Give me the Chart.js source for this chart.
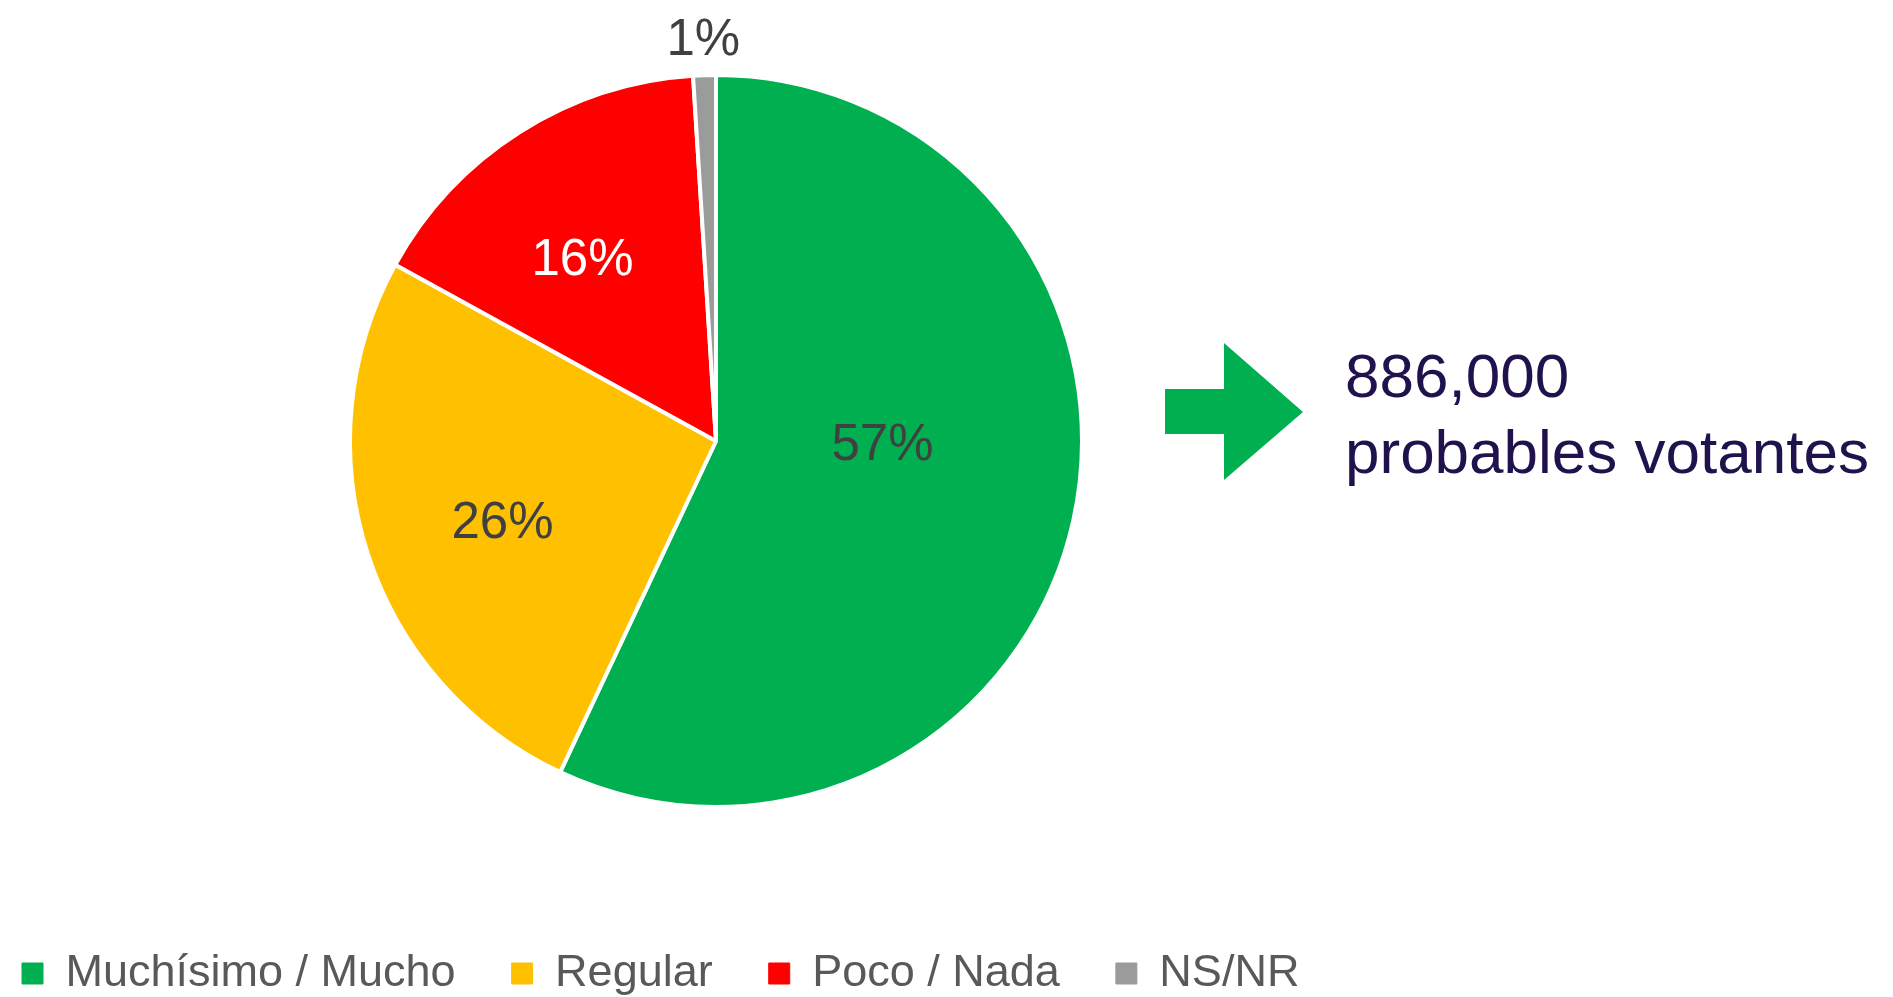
<!DOCTYPE html>
<html>
<head>
<meta charset="utf-8">
<script src="https://cdn.jsdelivr.net/npm/chart.js@4.4.1/dist/chart.umd.min.js"></script>
<style>
html, body { margin: 0; padding: 0; background: #fff; overflow: hidden; }
</style>
</head>
<body>
<canvas id="pieChart" width="1893" height="997"></canvas>
<script>
const categories = ["Muchísimo / Mucho", "Regular", "Poco / Nada", "NS/NR"];
const shares = [57, 26, 16, 1];
const sliceColors = ["#00b050", "#ffc000", "#ff0000", "#9b9b9b"];
const labelColors = ["#404040", "#404040", "#ffffff", "#404040"];
const calloutLines = ["886,000", "probables votantes"];

const FONT = '"Liberation Sans", Arial, sans-serif';

// percent labels inside / outside the slices
const sliceLabels = {
    id: "sliceLabels",
    afterDatasetsDraw(chart, args, opts){
        const ctx = chart.ctx;
        const meta = chart.getDatasetMeta(0);
        ctx.save();
        ctx.font = "51px " + FONT;
        ctx.textAlign = "center";
        ctx.textBaseline = "middle";
        meta.data.forEach((arc, i) => {
            const p = arc.getProps(["x","y","startAngle","endAngle","outerRadius"], true);
            const mid = (p.startAngle + p.endAngle)/2 + opts.shift[i]*Math.PI/180;
            const r = p.outerRadius*opts.radius[i];
            ctx.fillStyle = labelColors[i];
            ctx.fillText(shares[i] + "%", p.x + Math.cos(mid)*r, p.y + Math.sin(mid)*r + 6);
        });
        ctx.restore();
    }
};

// arrow + voter count on the right
const callout = {
    id: "callout",
    afterDraw(chart){
        const ctx = chart.ctx;
        ctx.save();
        ctx.fillStyle = "#00b050";
        ctx.beginPath();
        ctx.moveTo(1165, 389);
        ctx.lineTo(1224, 389);
        ctx.lineTo(1224, 343);
        ctx.lineTo(1303, 412);
        ctx.lineTo(1224, 480);
        ctx.lineTo(1224, 434);
        ctx.lineTo(1165, 434);
        ctx.closePath();
        ctx.fill();
        ctx.fillStyle = "#20124d";
        ctx.font = "62px " + FONT;
        ctx.textAlign = "left";
        ctx.textBaseline = "alphabetic";
        ctx.fillText(calloutLines[0], 1345, 397);
        ctx.fillText(calloutLines[1], 1345, 473);
        ctx.restore();
    }
};

new Chart(document.getElementById("pieChart"), {
    type: "pie",
    data: {
        labels: categories,
        datasets: [{
            data: shares,
            backgroundColor: sliceColors,
            borderColor: "#ffffff",
            borderWidth: 4,
            radius: 366
        }]
    },
    options: {
        responsive: false,
        animation: false,
        layout: { padding: { left: -34, right: 461, top: 0, bottom: -9 } },
        plugins: {
            tooltip: { enabled: false },
            legend: {
                position: "bottom",
                align: "start",
                // empty title only reserves a little room above the items
                title: { display: true, text: "", font: { size: 5 }, padding: 3.5 },
                labels: {
                    boxWidth: 21,
                    boxHeight: 21,
                    padding: 56,
                    color: "#595959",
                    font: { size: 45, family: FONT },
                    generateLabels(chart){
                        const items = Chart.overrides.pie.plugins.legend.labels.generateLabels(chart);
                        items.forEach(it => { it.strokeStyle = it.fillStyle; it.lineWidth = 1; });
                        return items;
                    }
                }
            },
            sliceLabels: {
                radius: [0.455, 0.62, 0.625, 1.11],
                shift: [-13, -1.8, -3.3, 0]
            }
        }
    },
    plugins: [sliceLabels, callout]
});
</script>
</body>
</html>
